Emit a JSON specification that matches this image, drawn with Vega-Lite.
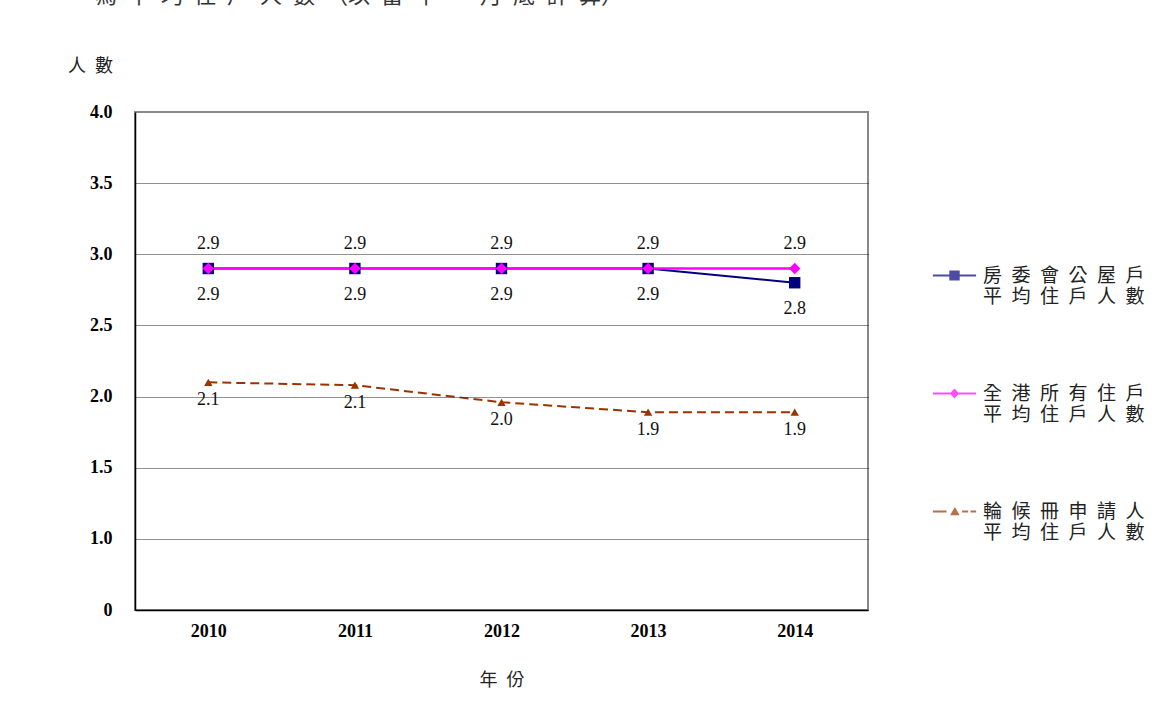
{
  "$schema": "https://vega.github.io/schema/vega-lite/v6.json",
  "width": 733,
  "height": 498,
  "autosize": {"type": "none"},
  "padding": {"left": 135, "top": 112, "right": 306, "bottom": 114},
  "background": "white",
  "title": {
    "text": "為\u2002平\u2002均\u2002住\u2002戶\u2002人\u2002數\u2002（以\u2002當\u2002年\u2002一\u2002月\u2002底\u2002計\u2002算）",
    "anchor": "start",
    "frame": "group",
    "offset": 49,
    "dx": -40,
    "fontSize": 22,
    "font": "Noto Sans CJK TC",
    "fontWeight": "normal",
    "color": "#333333"
  },
  "config": {
    "view": {"stroke": "#888888", "strokeWidth": 2},
    "font": "Liberation Serif"
  },
  "data": {
    "values": [
      {"year": "2010", "series": "房委會公屋戶平均住戶人數", "value": 2.9},
      {"year": "2011", "series": "房委會公屋戶平均住戶人數", "value": 2.9},
      {"year": "2012", "series": "房委會公屋戶平均住戶人數", "value": 2.9},
      {"year": "2013", "series": "房委會公屋戶平均住戶人數", "value": 2.9},
      {"year": "2014", "series": "房委會公屋戶平均住戶人數", "value": 2.8},
      {"year": "2010", "series": "全港所有住戶平均住戶人數", "value": 2.9},
      {"year": "2011", "series": "全港所有住戶平均住戶人數", "value": 2.9},
      {"year": "2012", "series": "全港所有住戶平均住戶人數", "value": 2.9},
      {"year": "2013", "series": "全港所有住戶平均住戶人數", "value": 2.9},
      {"year": "2014", "series": "全港所有住戶平均住戶人數", "value": 2.9},
      {"year": "2010", "series": "輪候冊申請人平均住戶人數", "value": 2.1},
      {"year": "2011", "series": "輪候冊申請人平均住戶人數", "value": 2.08},
      {"year": "2012", "series": "輪候冊申請人平均住戶人數", "value": 1.96},
      {"year": "2013", "series": "輪候冊申請人平均住戶人數", "value": 1.89},
      {"year": "2014", "series": "輪候冊申請人平均住戶人數", "value": 1.89}
    ]
  },
  "encoding": {
    "x": {
      "field": "year",
      "type": "ordinal",
      "axis": {
        "title": "年\u2002份",
        "labelFont": "Liberation Serif",
        "labelFontWeight": "bold",
        "labelFontSize": 18,
        "labelColor": "black",
        "labelAngle": 0,
        "labelPadding": 12,
        "ticks": false,
        "grid": false,
        "domainColor": "black",
        "domainWidth": 1.5,
        "titleFont": "Noto Sans CJK TC",
        "titleFontSize": 18,
        "titleFontWeight": "normal",
        "titleColor": "#222222",
        "titleY": 70,
        "titleBaseline": "middle",
        "zindex": 1
      }
    },
    "y": {
      "field": "value",
      "type": "quantitative",
      "scale": {"domain": [0.5, 4], "nice": false, "zero": false},
      "axis": {
        "values": [0.5, 1, 1.5, 2, 2.5, 3, 3.5, 4],
        "labelExpr": "datum.value == 0.5 ? '0' : format(datum.value, '.1f')",
        "labelFont": "Liberation Serif",
        "labelFontWeight": "bold",
        "labelFontSize": 18,
        "labelColor": "black",
        "labelPadding": 23,
        "ticks": false,
        "grid": true,
        "gridColor": {"condition": {"test": "datum.value == 4 || datum.value == 0.5", "value": "transparent"}, "value": "#222222"},
        "gridDash": [1, 1],
        "gridWidth": 1.2,
        "domainColor": "black",
        "domainWidth": 1.5,
        "title": "人\u2002數",
        "titleFont": "Noto Sans CJK TC",
        "titleFontSize": 18,
        "titleFontWeight": "normal",
        "titleColor": "#222222",
        "titleAngle": 0,
        "titleX": -45,
        "titleY": -46,
        "titleAlign": "center",
        "titleBaseline": "middle",
        "zindex": 1
      }
    }
  },
  "layer": [
    {
      "transform": [{"filter": "datum.series === '房委會公屋戶平均住戶人數'"}],
      "mark": {"type": "line", "color": "#000080", "strokeWidth": 2}
    },
    {
      "transform": [{"filter": "datum.series === '輪候冊申請人平均住戶人數'"}],
      "mark": {"type": "line", "color": "#993300", "strokeWidth": 2, "strokeDash": [9, 5]}
    },
    {
      "transform": [{"filter": "datum.series === '全港所有住戶平均住戶人數'"}],
      "mark": {"type": "line", "color": "#FF00FF", "strokeWidth": 2.5}
    },
    {
      "transform": [{"filter": "datum.series === '房委會公屋戶平均住戶人數'"}],
      "mark": {"type": "point", "shape": "square", "size": 130, "filled": true, "color": "#000080", "opacity": 1}
    },
    {
      "transform": [{"filter": "datum.series === '全港所有住戶平均住戶人數'"}],
      "mark": {"type": "point", "shape": "diamond", "size": 130, "filled": true, "color": "#FF00FF", "opacity": 1}
    },
    {
      "transform": [{"filter": "datum.series === '輪候冊申請人平均住戶人數'"}],
      "mark": {"type": "point", "shape": "triangle-up", "size": 70, "filled": true, "color": "#993300", "opacity": 1}
    },
    {
      "transform": [{"filter": "datum.series === '房委會公屋戶平均住戶人數'"}],
      "mark": {"type": "text", "dy": 26, "font": "Liberation Serif", "fontSize": 18, "color": "#111111"},
      "encoding": {"text": {"field": "value", "type": "quantitative", "format": ".1f"}}
    },
    {
      "transform": [{"filter": "datum.series === '全港所有住戶平均住戶人數'"}],
      "mark": {"type": "text", "dy": -25, "font": "Liberation Serif", "fontSize": 18, "color": "#111111"},
      "encoding": {"text": {"field": "value", "type": "quantitative", "format": ".1f"}}
    },
    {
      "transform": [{"filter": "datum.series === '輪候冊申請人平均住戶人數'"}],
      "mark": {"type": "text", "dy": 18, "font": "Liberation Serif", "fontSize": 18, "color": "#111111"},
      "encoding": {"text": {"field": "value", "type": "quantitative", "format": ".1f"}}
    },
    {
      "mark": {"type": "point", "filled": true, "clip": true},
      "encoding": {
        "y": {"datum": 0, "type": "quantitative"},
        "shape": {
          "field": "series",
          "type": "nominal",
          "scale": {
            "domain": ["房委會公屋戶平均住戶人數", "全港所有住戶平均住戶人數", "輪候冊申請人平均住戶人數"],
            "range": [
              "M-5.4,2H5.4V2.5H-5.4ZM-1.3,1H1.3V3.5H-1.3Z",
              "M-5.4,2H5.4V2.5H-5.4ZM0,1L1.15,2.25L0,3.5L-1.15,2.25Z",
              "M-5.4,2H-2V2.5H-5.4ZM1.9,2H3.4V2.5H1.9ZM4,2H5.4V2.5H4ZM0.1,1.1L1.3,3.2L-1.1,3.2Z"
            ]
          },
          "legend": {
            "title": null,
            "orient": "none",
            "legendX": 810,
            "legendY": 145,
            "symbolSize": 64,
            "symbolStrokeWidth": 0,
            "labelOffset": 19,
            "labelFont": "Noto Sans CJK TC",
            "labelFontSize": 19,
            "labelColor": "#222222",
            "labelLimit": 0,
            "rowPadding": 68,
            "labelBaseline": "top",
            "labelExpr": "datum.value === '房委會公屋戶平均住戶人數' ? ['房\u2002委\u2002會\u2002公\u2002屋\u2002戶', '平\u2002均\u2002住\u2002戶\u2002人\u2002數'] : datum.value === '全港所有住戶平均住戶人數' ? ['全\u2002港\u2002所\u2002有\u2002住\u2002戶', '平\u2002均\u2002住\u2002戶\u2002人\u2002數'] : ['輪\u2002候\u2002冊\u2002申\u2002請\u2002人', '平\u2002均\u2002住\u2002戶\u2002人\u2002數']"
          }
        },
        "color": {
          "field": "series",
          "type": "nominal",
          "scale": {
            "domain": ["房委會公屋戶平均住戶人數", "全港所有住戶平均住戶人數", "輪候冊申請人平均住戶人數"],
            "range": ["#000080", "#FF00FF", "#993300"]
          },
          "legend": {
            "title": null,
            "orient": "none",
            "legendX": 810,
            "legendY": 145,
            "symbolSize": 64,
            "symbolStrokeWidth": 0,
            "labelOffset": 19,
            "labelFont": "Noto Sans CJK TC",
            "labelFontSize": 19,
            "labelColor": "#222222",
            "labelLimit": 0,
            "rowPadding": 68,
            "labelBaseline": "top",
            "labelExpr": "datum.value === '房委會公屋戶平均住戶人數' ? ['房\u2002委\u2002會\u2002公\u2002屋\u2002戶', '平\u2002均\u2002住\u2002戶\u2002人\u2002數'] : datum.value === '全港所有住戶平均住戶人數' ? ['全\u2002港\u2002所\u2002有\u2002住\u2002戶', '平\u2002均\u2002住\u2002戶\u2002人\u2002數'] : ['輪\u2002候\u2002冊\u2002申\u2002請\u2002人', '平\u2002均\u2002住\u2002戶\u2002人\u2002數']"
          }
        }
      }
    }
  ]
}
